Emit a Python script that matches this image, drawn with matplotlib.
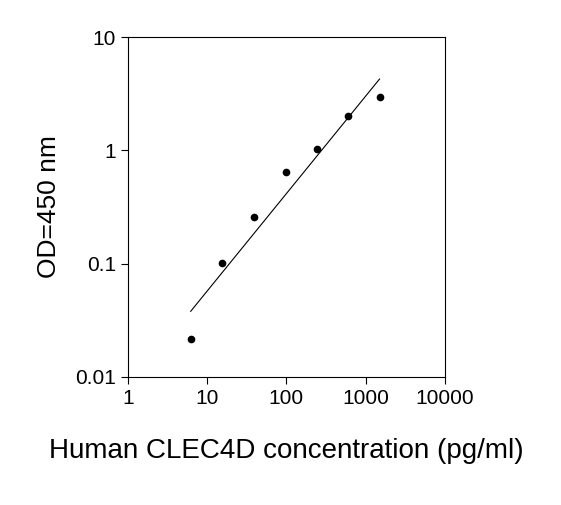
import matplotlib
matplotlib.use("Agg")
import matplotlib.pyplot as plt

plt.rcParams['font.family'] = ['Liberation Sans', 'DejaVu Sans']

conc = [6.2, 15.4, 39, 98, 243, 600, 1500]
od = [0.0216, 0.101, 0.258, 0.64, 1.02, 2.0, 2.95]
fit_x = [6.2, 1500]
fit_y = [0.038, 4.27]

fig = plt.figure(figsize=(5.61, 5.05), dpi=100)
ax = fig.add_axes([0.228, 0.2535, 0.565, 0.673])
ax.plot(fit_x, fit_y, color="black", lw=0.8)
ax.plot(conc, od, "o", color="black", ms=4.5)
ax.set_xscale("log")
ax.set_yscale("log")
ax.set_xlim(1, 10000)
ax.set_ylim(0.01, 10)
ax.set_xticks([1, 10, 100, 1000, 10000])
ax.set_xticklabels(["1", "10", "100", "1000", "10000"])
ax.set_yticks([0.01, 0.1, 1, 10])
ax.set_yticklabels(["0.01", "0.1", "1", "10"])
ax.minorticks_off()
ax.tick_params(labelsize=15, length=5, width=0.8)
for s in ax.spines.values():
    s.set_linewidth(0.8)
ax.set_xlabel("Human CLEC4D concentration (pg/ml)", fontsize=20, labelpad=22)
ax.set_ylabel("OD=450 nm", fontsize=19, labelpad=10)
fig.savefig("out.png", dpi=100)
